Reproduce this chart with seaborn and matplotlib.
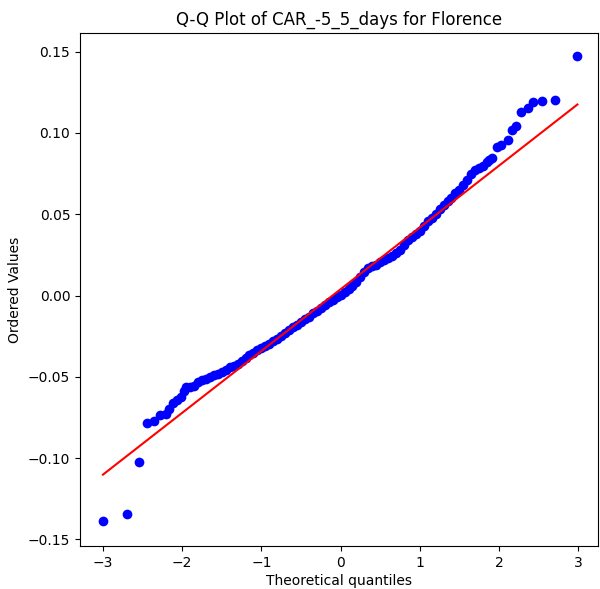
import numpy as np
import pandas as pd
import matplotlib
matplotlib.use("Agg")
import matplotlib.pyplot as plt
import seaborn as sns


# Theoretical quantiles / ordered values
lower_q = [-3.00, -2.70, -2.547, -2.44, -2.36, -2.28, -2.21, -2.165, -2.11,
           -2.06, -2.01, -1.976, -1.946, -1.90]
lower_v = [-0.1386, -0.1343, -0.1025, -0.0784, -0.0772, -0.0735, -0.0731,
           -0.0695, -0.0660, -0.0640, -0.0625, -0.0589, -0.0564, -0.0561]

mid_q = [-1.85, -1.80, -1.75, -1.70, -1.65, -1.60, -1.55, -1.50, -1.45, -1.40,
         -1.35, -1.30, -1.25, -1.20, -1.15, -1.10, -1.05, -1.00, -0.95, -0.90,
         -0.85, -0.80, -0.75, -0.70, -0.65, -0.60, -0.55, -0.50, -0.45, -0.40,
         -0.35, -0.30, -0.25, -0.20, -0.15, -0.10, -0.05, 0.00, 0.05, 0.10,
         0.15, 0.20, 0.25, 0.30, 0.35, 0.40, 0.45, 0.50, 0.55, 0.60,
         0.65, 0.70, 0.75, 0.80, 0.85, 0.90, 0.95, 1.00, 1.05, 1.10,
         1.15, 1.20, 1.25, 1.30, 1.35, 1.40, 1.45, 1.50, 1.55, 1.60,
         1.65, 1.70, 1.75, 1.80, 1.85, 1.88, 1.91]
mid_v = [-0.0555, -0.0530, -0.0520, -0.0510, -0.0500, -0.0490, -0.0480, -0.0470,
         -0.0455, -0.0442, -0.0430, -0.0418, -0.0400, -0.0385, -0.0368, -0.0350,
         -0.0335, -0.0320, -0.0310, -0.0295, -0.0280, -0.0265, -0.0250, -0.0232,
         -0.0212, -0.0195, -0.0180, -0.0162, -0.0145, -0.0130, -0.0110, -0.0095,
         -0.0078, -0.0060, -0.0042, -0.0025, -0.0010, 0.0005, 0.0020, 0.0038,
         0.0058, 0.0085, 0.0115, 0.0145, 0.0170, 0.0180, 0.0190, 0.0205,
         0.0220, 0.0230, 0.0245, 0.0260, 0.0280, 0.0310, 0.0340, 0.0360,
         0.0380, 0.0400, 0.0430, 0.0460, 0.0480, 0.0500, 0.0530, 0.0555,
         0.0580, 0.0600, 0.0630, 0.0650, 0.0680, 0.0710, 0.0745, 0.0770,
         0.0785, 0.0800, 0.0820, 0.0837, 0.0848]

upper_q = [1.97, 2.03, 2.11, 2.165, 2.215, 2.28, 2.36, 2.43, 2.54, 2.71, 2.99]
upper_v = [0.0915, 0.0925, 0.0954, 0.1017, 0.1045, 0.1127, 0.1153, 0.1190,
           0.1194, 0.1204, 0.1475]

# least-squares line shown in red
fit_slope = 0.0380
fit_intercept = 0.0039

plot_title = "Q-Q Plot of CAR_-5_5_days for Florence"


def main() -> None:
    df = pd.DataFrame({
        "quantile": lower_q + mid_q + upper_q,
        "value": lower_v + mid_v + upper_v,
    })

    fig = plt.figure(figsize=(6.0, 5.89), dpi=100)
    ax = fig.add_axes([80 / 600, 43 / 589, 518 / 600, 513 / 589])

    sns.scatterplot(data=df, x="quantile", y="value", color="blue",
                    s=49, linewidth=0, ax=ax, zorder=2)

    # fitted line across the quantile range
    line_x = np.array([df["quantile"].min(), df["quantile"].max()])
    sns.lineplot(x=line_x, y=fit_slope * line_x + fit_intercept,
                 color="red", linewidth=1.5, ax=ax, zorder=3)

    ax.set_xlim(-3.29, 3.25)
    ax.set_ylim(-0.154, 0.1615)
    ax.set_xticks([-3, -2, -1, 0, 1, 2, 3])
    ax.set_yticks([-0.15, -0.10, -0.05, 0.00, 0.05, 0.10, 0.15])
    ax.set_yticklabels(["−0.15", "−0.10", "−0.05", "0.00", "0.05", "0.10", "0.15"])

    ax.set_title(plot_title, fontsize=12)
    ax.set_xlabel("Theoretical quantiles", fontsize=10, labelpad=3)
    ax.set_ylabel("Ordered Values", fontsize=10)

    fig.savefig("out.png", dpi=100)


if __name__ == "__main__":
    main()
